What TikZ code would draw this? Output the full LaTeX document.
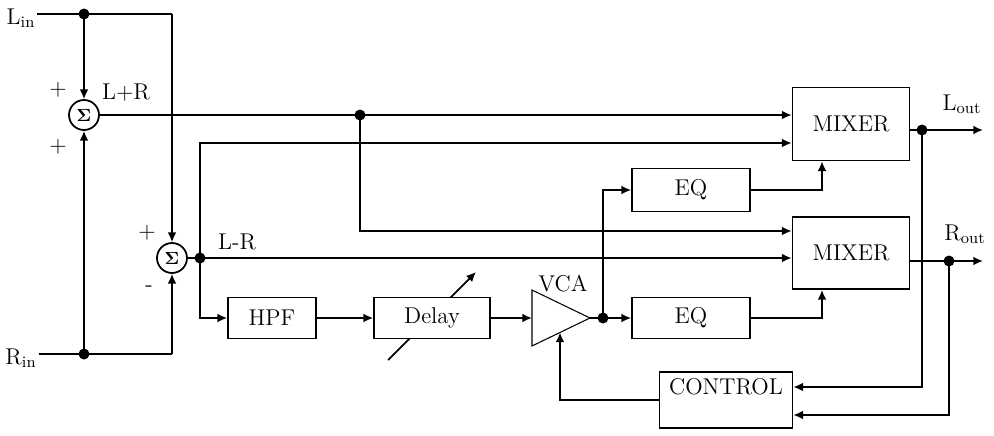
\documentclass[tikz,border=0pt]{standalone}
\usetikzlibrary{arrows.meta,backgrounds}

\tikzset{
  blk/.style={draw, line width=1pt, fill=white, inner sep=0pt, font=\fontsize{13}{15}\selectfont},
  sum/.style={draw, circle, line width=1pt, fill=white, minimum size=0.6cm, inner sep=0pt},
  wire/.style={line width=1pt},
  sig/.style={line width=1pt, -{Latex[length=5.5pt,width=5pt]}},
  lbl/.style={font=\fontsize{13}{15}\selectfont, inner sep=1pt},
}
\newcommand{\jdot}[1]{\fill (#1) circle (0.11cm);}

\begin{document}
\begin{tikzpicture}[x=0.02cm, y=-0.02cm]
\useasboundingbox (0,0) rectangle (994,436);

% Inputs
\node[lbl] (lin) at (21,18) {L\textsubscript{in}};
\node[lbl] (rin) at (21,358) {R\textsubscript{in}};
\coordinate (jl) at (84,14);
\coordinate (jr) at (84,354);
\coordinate (tl) at (172,14);
\coordinate (tr) at (172,354);

% Summers
\node[sum] (suma) at (84,115) {$\mathbf{\Sigma}$};
\node[sum] (sumb) at (172,258) {$\mathbf{\Sigma}$};
\node[lbl] (pa) at (58,90) {+};
\node[lbl] (pb) at (58,147) {+};
\node[lbl] (pc) at (147,233) {+};
\node[lbl] (mc) at (149,289) {-};
\node[lbl, anchor=west] (lpr) at (100,93) {L+R};
\node[lbl, anchor=west] (lmr) at (216,242) {L-R};

% Blocks
\node[blk, minimum width=1.76cm, minimum height=0.82cm] (hpf) at (272,318) {HPF};
\node[blk, minimum width=2.32cm, minimum height=0.82cm] (delay) at (432,318) {Delay};
\node[blk, minimum width=2.36cm, minimum height=0.86cm] (eq1) at (691,190) {EQ};
\node[blk, minimum width=2.36cm, minimum height=0.82cm] (eq2) at (691,318) {EQ};
\node[blk, minimum width=2.34cm, minimum height=1.46cm] (mix1) at (851,124) {MIXER};
\node[blk, minimum width=2.34cm, minimum height=1.44cm] (mix2) at (851,253) {MIXER};
\node[blk, minimum width=2.66cm, minimum height=1.12cm,
  label={[lbl, anchor=north, yshift=-3pt]north:CONTROL}] (control) at (726,400) {};

% VCA
\coordinate (va) at (532,290);
\coordinate (vb) at (532,346);
\coordinate (vt) at (590,318);
\coordinate (vin) at (560,332.5);
\draw[line width=0.6pt] (va) -- (vt) -- (vb) -- cycle;
\node[lbl] (vca) at (563,284) {VCA};

% Junctions
\coordinate (jlr) at (360,115);
\coordinate (jd) at (200,258);
\coordinate (jv) at (603,318);
\coordinate (jlo) at (922,130);
\coordinate (jro) at (949,261);
\coordinate (lout) at (983,130);
\coordinate (rout) at (983,261);
\coordinate (cup) at (200,143);
\coordinate (cdn) at (200,318);
\coordinate (clr) at (360,231);
\coordinate (fa) at (922,387);
\coordinate (fb) at (949,415);

% Input wiring
\draw[wire] (lin.east |- jl) -- (tl);
\draw[wire] (rin.east |- jr) -- (tr);
\draw[sig] (jl) -- (suma);
\draw[sig] (jr) -- (suma);
\draw[sig] (tl) -- (sumb);
\draw[sig] (tr) -- (sumb);

% Sum and difference paths
\draw[sig] (suma) -- (mix1.west |- suma);
\draw[sig] (sumb) -- (mix2.west |- sumb);
\draw[sig] (jlr) -- (clr) -- (mix2.west |- clr);
\draw[sig] (jd) -- (cup) -- (mix1.west |- cup);
\draw[sig] (jd) -- (cdn) -- (hpf);

% Ambience chain
\draw[sig] (hpf) -- (delay);
\draw[sig] (delay) -- (va |- delay);
\draw[wire] (vt) -- (jv);
\draw[sig] (jv) -- (eq2);
\draw[sig] (jv) |- (eq1);
\draw[sig] (eq1) -| ([xshift=-0.58cm]mix1.south);
\draw[sig] (eq2) -| ([xshift=-0.58cm]mix2.south);
\begin{scope}[on background layer]
\draw[sig] ([shift={(-44,42)}]delay.center) -- ([shift={(44,-46)}]delay.center);
\end{scope}

% Outputs
\draw[wire] (mix1.east |- jlo) -- (jlo);
\draw[sig] (jlo) -- (lout);
\draw[wire] (mix2.east |- jro) -- (jro);
\draw[sig] (jro) -- (rout);
\node[lbl] (loutl) at (962,104) {L\textsubscript{out}};
\node[lbl] (routl) at (965,234) {R\textsubscript{out}};

% Control loop
\draw[sig] (jlo) -- (fa) -- (control.east |- fa);
\draw[sig] (jro) -- (fb) -- (control.east |- fb);
\draw[sig] (control.west) -| (vin);

\jdot{jl} \jdot{jr} \jdot{jlr} \jdot{jd} \jdot{jv} \jdot{jlo} \jdot{jro}

\end{tikzpicture}
\end{document}
